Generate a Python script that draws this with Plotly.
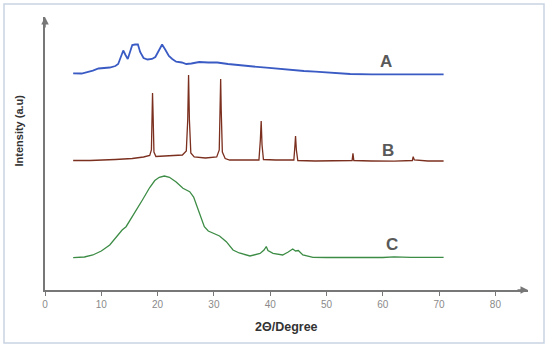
import plotly.graph_objects as go

# pixel-derived values: intensity = arbitrary units (higher = up)
A_x = [5.0, 6.5, 8.5, 9.5, 11.5, 12.5, 13.0, 13.5, 13.9, 14.3, 14.7, 15.1, 15.5, 16.0, 16.5, 16.9,
       17.5, 18.2, 19.0, 19.6, 20.2, 20.8, 21.4, 22.0, 22.6, 23.3, 24.3, 25.1, 26.0, 27.4, 29.0,
       30.6, 32.5, 35.0, 37.0, 39.3, 41.5, 43.6, 46.0, 48.0, 51.0, 54.2, 58.0, 62.0, 66.0, 70.8]
A_py = [73.3, 73.5, 70.7, 68.5, 67.5, 66, 64, 57, 50.5, 55, 59, 52, 45, 44.5, 44.5, 52,
        58, 59.5, 59, 57, 50, 44.5, 50, 56, 59, 61.7, 62.5, 64, 63.5, 62, 62.5,
        62.5, 64, 65, 66.5, 67.7, 69, 70, 71, 71.7, 73, 74, 74.3, 74.3, 74.3, 74.3]

B_x = [5.0, 8.0, 12.5, 15.5, 17.5, 18.6, 18.9, 19.0, 19.1, 19.2, 19.35, 19.7, 22.0, 24.4, 25.1,
       25.35, 25.5, 25.65, 25.9, 26.5, 28.5, 30.5, 30.95, 31.1, 31.2, 31.3, 31.5, 32.0, 32.8,
       35.0, 38.0, 38.25, 38.4, 38.55, 38.8, 41.0, 44.2, 44.4, 44.5, 44.65, 44.9, 48.0, 52.0,
       54.55, 54.7, 54.85, 58.0, 62.0, 65.25, 65.4, 65.6, 68.0, 70.8]
B_py = [160.5, 160.5, 159.5, 158.5, 157, 155.5, 150, 110, 93, 115, 152, 156.5, 156, 155, 151,
        120, 75, 120, 153, 157, 158, 157, 150, 110, 79, 110, 152, 158.5, 160,
        160, 160, 140, 121, 145, 159.5, 160, 160, 145, 136, 150, 160.5, 161, 161,
        160.5, 153.3, 160.5, 161, 161.2, 160.5, 156.7, 160, 161, 161]

C_x = [5.0, 7.0, 8.5, 10.0, 11.5, 12.5, 13.7, 14.4, 15.5, 16.8, 17.3, 18.6, 19.5, 20.3, 21.2,
       22.1, 23.3, 24.5, 25.7, 26.4, 26.9, 27.6, 28.3, 29.0, 31.0, 32.2, 33.4, 34.5, 36.4, 38.2,
       38.9, 39.3, 39.6, 40.5, 42.2, 43.2, 44.0, 44.5, 45.0, 45.8, 47.6, 50.0, 55.9, 60.0, 62.0,
       65.0, 70.8]
C_py = [257.7, 257, 255, 251, 245, 238, 230, 226.7, 217, 205, 200, 187.5, 180.5, 177.3, 176,
        177.3, 182, 188.3, 191.7, 197, 205, 216, 226.7, 231, 236, 241.7, 250, 253, 256, 253.5,
        250, 246.5, 250.5, 253.3, 255, 252, 249, 251, 250.5, 255, 257.3, 257.5, 257.7, 257.5, 256.8,
        257.3, 257.3]

x_ticks = [0, 10, 20, 30, 40, 50, 60, 70, 80]
labels = ["A", "B", "C"]
label_x = [60.6, 61.0, 61.7]
label_py = [61.7, 150, 244]

BASE = 290  # pixel row of x-axis

def val(py):
    return [BASE - p for p in py]

fig = go.Figure()
fig.add_trace(go.Scatter(x=A_x, y=val(A_py), mode="lines", line=dict(color="#3b5bc4", width=1.8)))
fig.add_trace(go.Scatter(x=B_x, y=val(B_py), mode="lines", line=dict(color="#7b2f1e", width=1.3)))
fig.add_trace(go.Scatter(x=C_x, y=val(C_py), mode="lines", line=dict(color="#3c8c45", width=1.3)))

for t, lx, lp in zip(labels, label_x, val(label_py)):
    fig.add_annotation(x=lx, y=lp, text="<b>" + t + "</b>", showarrow=False,
                       font=dict(family="Liberation Sans", size=17, color="#595959"))

XMAX = (528 - 45) / 5.63
YMAX = 290 - 17

# axis arrows
fig.add_annotation(x=XMAX, y=0, ax=-12, ay=0, xref="x", yref="y",
                   text="", showarrow=True, arrowhead=2, arrowsize=1, arrowwidth=1.5, arrowcolor="#777777")
fig.add_annotation(x=0, y=YMAX, ax=0, ay=12, xref="x", yref="y", text="", showarrow=True,
                   arrowhead=2, arrowsize=1, arrowwidth=1.5, arrowcolor="#777777")

# axis titles
fig.add_annotation(xref="paper", yref="paper", x=0, y=0.5, xshift=-35, yshift=23, text="<b>Intensity (a.u)</b>",
                   textangle=-90, showarrow=False, font=dict(family="Liberation Sans", size=11, color="#333333"))
fig.add_annotation(xref="paper", yref="paper", x=0.5, y=0, yshift=-46, text="<b>2Θ/Degree</b>",
                   showarrow=False, font=dict(family="Liberation Sans", size=12.5, color="#333333"))

# outer border
pw = 528 - 45
ph = 290 - 17
fig.add_shape(type="rect", xref="paper", yref="paper",
              x0=(4 - 45) / pw, x1=(544 - 45) / pw, y0=(290 - 343) / ph, y1=(290 - 4) / ph,
              line=dict(color="#c8d3e2", width=1.5))

fig.update_layout(
    width=550, height=349, showlegend=False,
    margin=dict(l=45, r=550 - 528, t=17, b=349 - 290),
    paper_bgcolor="white", plot_bgcolor="white",
    xaxis=dict(range=[0, XMAX], tickvals=x_ticks, ticks="outside", ticklen=4, tickcolor="#777777",
               showline=True, linecolor="#777777", linewidth=1.5, showgrid=False, zeroline=False,
               tickfont=dict(family="Liberation Sans", size=10, color="#8a8a8a")),
    yaxis=dict(range=[0, YMAX], showticklabels=False, ticks="", showline=True, linecolor="#777777",
               linewidth=1.5, showgrid=False, zeroline=False),
)

fig.write_html("out.html", config={"displayModeBar": False},
               post_script="document.body.style.margin='0';")
